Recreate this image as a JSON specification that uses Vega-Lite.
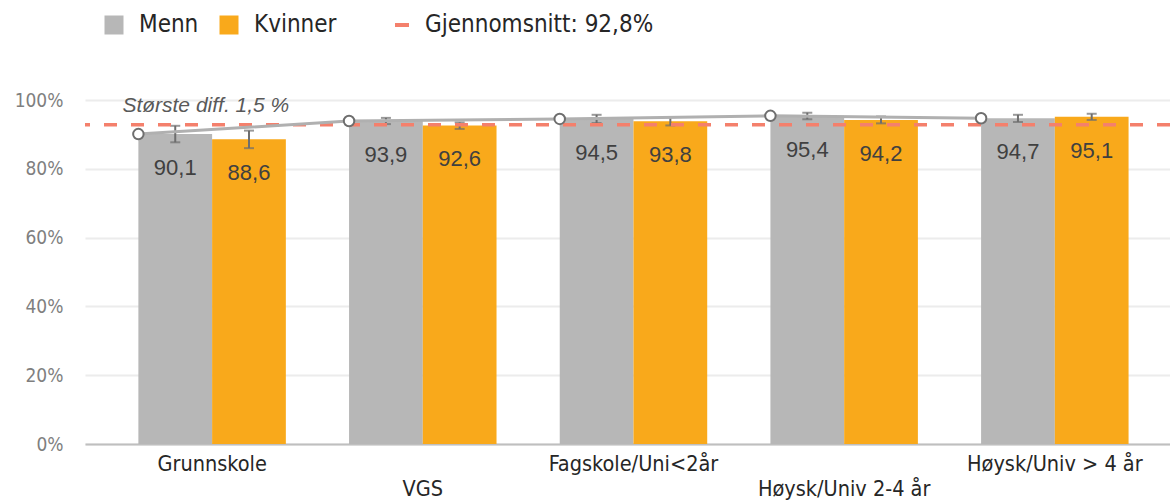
{
  "$schema": "https://vega.github.io/schema/vega-lite/v6.json",
  "width": 1085,
  "height": 344,
  "autosize": "none",
  "padding": {"left": 85, "top": 100, "right": 0, "bottom": 56},
  "background": "white",
  "datasets": {
    "bars": [
      {"cat": "Grunnskole", "sex": "Menn", "value": 90.1, "lo": 87.7, "hi": 92.5},
      {"cat": "Grunnskole", "sex": "Kvinner", "value": 88.6, "lo": 86.0, "hi": 91.1},
      {"cat": "VGS", "sex": "Menn", "value": 93.9, "lo": 93.0, "hi": 94.8},
      {"cat": "VGS", "sex": "Kvinner", "value": 92.6, "lo": 91.6, "hi": 93.5},
      {"cat": "Fagskole/Uni<2år", "sex": "Menn", "value": 94.5, "lo": 93.3, "hi": 95.7},
      {"cat": "Fagskole/Uni<2år", "sex": "Kvinner", "value": 93.8, "lo": 92.6, "hi": 95.0},
      {"cat": "Høysk/Univ 2-4 år", "sex": "Menn", "value": 95.4, "lo": 94.4, "hi": 96.3},
      {"cat": "Høysk/Univ 2-4 år", "sex": "Kvinner", "value": 94.2, "lo": 93.2, "hi": 95.2},
      {"cat": "Høysk/Univ > 4 år", "sex": "Menn", "value": 94.7, "lo": 93.6, "hi": 95.7},
      {"cat": "Høysk/Univ > 4 år", "sex": "Kvinner", "value": 95.1, "lo": 94.2, "hi": 96.0}
    ],
    "mean": [{"label": "Gjennomsnitt: 92,8%", "mean": 92.8}],
    "note": [{"cat": "Grunnskole", "y": 98.3, "text": "Største diff. 1,5 %"}]
  },
  "config": {
    "locale": {"number": {"decimal": ",", "thousands": " ", "grouping": [3], "currency": ["", " kr"]}},
    "view": {"stroke": null},
    "legend": {"padding": 0}
  },
  "layer": [
    {
      "data": {"name": "bars"},
      "mark": {"type": "bar"},
      "encoding": {
        "x": {
          "field": "cat", "type": "nominal", "sort": null,
          "scale": {"paddingInner": 0.3, "paddingOuter": 0.225, "align": 0.563},
          "axis": {
            "title": null,
            "labelAngle": 0,
            "labelFont": "DejaVu Sans Condensed",
            "labelFontSize": 21.5,
            "labelColor": "#262626",
            "labelPadding": 9,
            "labelLineHeight": 25,
            "labelLimit": 300,
            "labelExpr": "datum.label == 'VGS' || datum.label == 'Høysk/Univ 2-4 år' ? ['', datum.label] : datum.label",
            "ticks": false,
            "domainColor": "#BFBFBF",
            "domainWidth": 2,
            "grid": false
          }
        },
        "xOffset": {"field": "sex", "type": "nominal", "sort": ["Menn", "Kvinner"], "scale": {"paddingInner": 0, "paddingOuter": 0}},
        "y": {
          "field": "value", "type": "quantitative",
          "scale": {"domain": [0, 100], "nice": false},
          "axis": {
            "title": null,
            "values": [0, 20, 40, 60, 80, 100],
            "labelExpr": "datum.value + '%'",
            "labelFont": "DejaVu Sans Condensed",
            "labelFontSize": 19,
            "labelColor": "#7F7F7F",
            "labelPadding": 22,
            "ticks": false,
            "domain": false,
            "gridColor": "#ECECEC",
            "gridWidth": 2
          }
        },
        "color": {
          "field": "sex", "type": "nominal", "sort": ["Menn", "Kvinner"],
          "scale": {"domain": ["Menn", "Kvinner"], "range": ["#B7B7B7", "#F9A91B"]},
          "legend": {
            "title": null,
            "orient": "none",
            "legendX": 17,
            "legendY": -87,
            "direction": "horizontal",
            "symbolType": "square",
            "symbolSize": 361,
            "symbolStrokeWidth": 0,
            "labelFont": "DejaVu Sans Condensed",
            "labelFontSize": 24,
            "labelColor": "#262626",
            "labelOffset": 13,
            "columnPadding": 18
          }
        }
      }
    },
    {
      "data": {"name": "bars"},
      "mark": {"type": "text", "font": "Liberation Sans", "fontSize": 22, "color": "#404040", "baseline": "middle", "dy": 34},
      "encoding": {
        "x": {"field": "cat", "type": "nominal", "sort": null},
        "xOffset": {"field": "sex", "type": "nominal", "sort": ["Menn", "Kvinner"]},
        "y": {"field": "value", "type": "quantitative"},
        "text": {"field": "value", "type": "quantitative", "format": ".1f"}
      }
    },
    {
      "data": {"name": "bars"},
      "mark": {"type": "rule", "color": "#6E6E6E", "strokeWidth": 2},
      "encoding": {
        "x": {"field": "cat", "type": "nominal", "sort": null},
        "xOffset": {"field": "sex", "type": "nominal", "sort": ["Menn", "Kvinner"]},
        "y": {"field": "lo", "type": "quantitative"},
        "y2": {"field": "hi"}
      }
    },
    {
      "data": {"name": "bars"},
      "mark": {"type": "tick", "orient": "horizontal", "color": "#6E6E6E", "size": 10, "thickness": 2},
      "encoding": {
        "x": {"field": "cat", "type": "nominal", "sort": null},
        "xOffset": {"field": "sex", "type": "nominal", "sort": ["Menn", "Kvinner"]},
        "y": {"field": "lo", "type": "quantitative"}
      }
    },
    {
      "data": {"name": "bars"},
      "mark": {"type": "tick", "orient": "horizontal", "color": "#6E6E6E", "size": 10, "thickness": 2},
      "encoding": {
        "x": {"field": "cat", "type": "nominal", "sort": null},
        "xOffset": {"field": "sex", "type": "nominal", "sort": ["Menn", "Kvinner"]},
        "y": {"field": "hi", "type": "quantitative"}
      }
    },
    {
      "data": {"name": "mean"},
      "mark": {"type": "rule", "strokeWidth": 3.5, "strokeDash": [13, 14]},
      "encoding": {
        "y": {"field": "mean", "type": "quantitative"},
        "stroke": {
          "field": "label", "type": "nominal",
          "scale": {"range": ["#F4806C"]},
          "legend": {
            "title": null,
            "orient": "none",
            "legendX": 305,
            "legendY": -87,
            "symbolType": "stroke",
            "symbolSize": 196,
            "symbolStrokeWidth": 4,
            "symbolDash": [],
            "labelFont": "DejaVu Sans Condensed",
            "labelFontSize": 24,
            "labelLimit": 400,
            "labelColor": "#262626",
            "labelOffset": 11
          }
        }
      }
    },
    {
      "data": {"name": "bars"},
      "transform": [{"filter": "datum.sex == 'Menn'"}],
      "mark": {"type": "line", "color": "#B0B0B0", "strokeWidth": 3},
      "encoding": {
        "x": {"field": "cat", "type": "nominal", "sort": null, "bandPosition": 0},
        "y": {"field": "value", "type": "quantitative"}
      }
    },
    {
      "data": {"name": "bars"},
      "transform": [{"filter": "datum.sex == 'Menn'"}],
      "mark": {"type": "point", "shape": "circle", "filled": true, "fill": "white", "stroke": "#6E6E6E", "strokeWidth": 2, "size": 110, "opacity": 1},
      "encoding": {
        "x": {"field": "cat", "type": "nominal", "sort": null, "bandPosition": 0},
        "y": {"field": "value", "type": "quantitative"}
      }
    },
    {
      "data": {"name": "note"},
      "mark": {"type": "text", "font": "Liberation Sans", "fontSize": 21, "fontStyle": "italic", "color": "#595959", "align": "left", "baseline": "middle", "dx": -16},
      "encoding": {
        "x": {"field": "cat", "type": "nominal", "sort": null, "bandPosition": 0},
        "y": {"field": "y", "type": "quantitative"},
        "text": {"field": "text"}
      }
    }
  ]
}
